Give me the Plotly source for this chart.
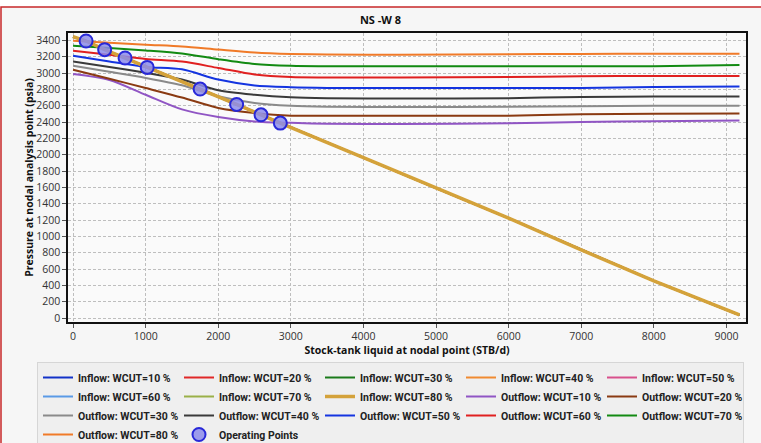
import plotly.graph_objects as go

# ---------------- data ----------------
wcut = [10, 20, 30, 40, 50, 60, 70, 80]

inflow_q = [0, 179, 435, 716, 1021, 1750, 2253, 2589, 2855, 4000, 5000, 6000, 7000, 8000, 9180]
inflow_p = [3445, 3392, 3286, 3184, 3069, 2804, 2615, 2489, 2387, 1965, 1590, 1223, 835, 455, 38]

outflow_q = [0, 500, 1000, 1500, 2000, 2500, 3000, 3500, 4500, 6000, 7000, 8000, 9180]
outflow_p10 = [2988, 2915, 2734, 2555, 2462, 2408, 2390, 2380, 2375, 2385, 2400, 2410, 2419]
outflow_p20 = [3040, 2930, 2816, 2700, 2573, 2512, 2478, 2476, 2476, 2478, 2494, 2500, 2505]
outflow_p30 = [3089, 3015, 2940, 2850, 2715, 2634, 2600, 2588, 2584, 2586, 2594, 2598, 2600]
outflow_p40 = [3142, 3075, 3002, 2920, 2790, 2735, 2703, 2692, 2689, 2692, 2708, 2712, 2713]
outflow_p50 = [3212, 3140, 3075, 3045, 2920, 2848, 2826, 2818, 2816, 2816, 2818, 2830, 2836]
outflow_p60 = [3273, 3225, 3172, 3140, 3062, 2982, 2950, 2946, 2946, 2950, 2962, 2964, 2965]
outflow_p70 = [3334, 3305, 3277, 3240, 3170, 3112, 3090, 3084, 3082, 3082, 3082, 3084, 3098]
outflow_p80 = [3396, 3372, 3347, 3326, 3288, 3252, 3234, 3226, 3224, 3230, 3234, 3236, 3237]

op_q = [179, 435, 716, 1021, 1750, 2253, 2589, 2855]
op_p = [3392, 3286, 3184, 3069, 2804, 2615, 2489, 2387]

x_ticks = [0, 1000, 2000, 3000, 4000, 5000, 6000, 7000, 8000, 9000]
y_ticks = list(range(0, 3401, 200))

inflow_colors = ["#1232C8", "#E02828", "#1A7A1A", "#F08A30", "#D8508C",
                 "#5A9AE6", "#9AB048", "#D4A23A"]
outflow_colors = ["#9055C4", "#8A3A12", "#8A8A8A", "#3A3A3A", "#1434E0",
                  "#E02020", "#128A12", "#F07A28"]
outflow_series = [outflow_p10, outflow_p20, outflow_p30, outflow_p40,
                  outflow_p50, outflow_p60, outflow_p70, outflow_p80]

FONT = "Open Sans"
LFONT = "Roboto"

fig = go.Figure()

# outflow curves drawn first (underneath), legend order handled by legendrank
for i, w in enumerate(wcut):
    fig.add_trace(go.Scatter(
        x=outflow_q, y=outflow_series[i], mode="lines",
        name=f"Outflow: WCUT={w} %", legendrank=100 + i,
        line=dict(color=outflow_colors[i], width=2, shape="spline", smoothing=0.8),
    ))

for i, w in enumerate(wcut):
    fig.add_trace(go.Scatter(
        x=inflow_q, y=inflow_p, mode="lines",
        name=f"Inflow: WCUT={w} %", legendrank=10 + i,
        line=dict(color=inflow_colors[i], width=2 if i < 7 else 3.5),
    ))

fig.add_trace(go.Scatter(
    x=op_q, y=op_p, mode="markers", name="Operating Points", legendrank=200,
    marker=dict(size=13, color="rgba(140,140,235,0.85)",
                line=dict(color="#2828D8", width=2)),
))

L, R, T, B = 68, 15, 33, 121
W, H = 761, 443
pw, ph = W - L - R, H - T - B

def px_x(p):
    return (p - L) / pw

def px_y(p):
    return (H - B - p) / ph

fig.update_layout(
    width=W, height=H,
    margin=dict(l=L, r=R, t=T, b=B, autoexpand=False),
    paper_bgcolor="#F6F6F6",
    plot_bgcolor="#FAFAFA",
    font=dict(family=FONT, size=10.5, color="#333333"),
    title=dict(text="<b>NS -W 8</b>", x=0.5, xanchor="center", y=1 - 20 / H,
               yanchor="middle", font=dict(family=FONT, size=11, color="#111111")),
    showlegend=True,
    legend=dict(
        orientation="h", x=px_x(37), xanchor="left", y=px_y(362), yanchor="top",
        entrywidth=96, entrywidthmode="pixels",
        bgcolor="#EFEFEF", bordercolor="#D6D6D6", borderwidth=1,
        font=dict(family=LFONT, size=10.5, color="#222222", weight="bold"),
        traceorder="normal", tracegroupgap=0,
    ),
    shapes=[
        dict(type="rect", xref="paper", yref="paper",
             x0=px_x(-20), x1=px_x(800), y0=px_y(7), y1=px_y(-20),
             fillcolor="#FFFFFF", line=dict(width=0), layer="below"),
        dict(type="rect", xref="paper", yref="paper",
             x0=px_x(1), x1=px_x(790), y0=px_y(480), y1=px_y(7),
             fillcolor="rgba(0,0,0,0)", line=dict(color="#C8282A", width=1.5),
             layer="above"),
    ],
)

fig.update_xaxes(
    range=[-70, 9270], tickvals=x_ticks, ticktext=[str(v) for v in x_ticks],
    showgrid=True, gridcolor="#BEBEBE", griddash="3px,2px", gridwidth=1,
    zeroline=False, showline=True, linecolor="#111111", linewidth=1.5, mirror=True,
    ticks="outside", ticklen=4, tickcolor="#555555",
    tickfont=dict(family=FONT, size=10.5, color="#333333"),
    title=dict(text="<b>Stock-tank liquid at nodal point (STB/d)</b>",
               font=dict(family=FONT, size=10.5, color="#111111"), standoff=0),
)
fig.update_yaxes(
    range=[-48, 3490], tickvals=y_ticks, ticktext=[str(v) for v in y_ticks],
    showgrid=True, gridcolor="#BEBEBE", griddash="3px,2px", gridwidth=1,
    zeroline=False, showline=True, linecolor="#111111", linewidth=1.5, mirror=True,
    ticks="outside", ticklen=4, tickcolor="#555555",
    tickfont=dict(family=FONT, size=10.5, color="#333333"),
    title=dict(text="<b>Pressure at nodal analysis point (psia)</b>",
               font=dict(family=FONT, size=10.5, color="#111111"), standoff=0),
)

fig.write_html(
    "out.html",
    config={"displayModeBar": False},
    post_script="document.body.style.margin='0px';document.body.style.overflow='hidden';",
)
